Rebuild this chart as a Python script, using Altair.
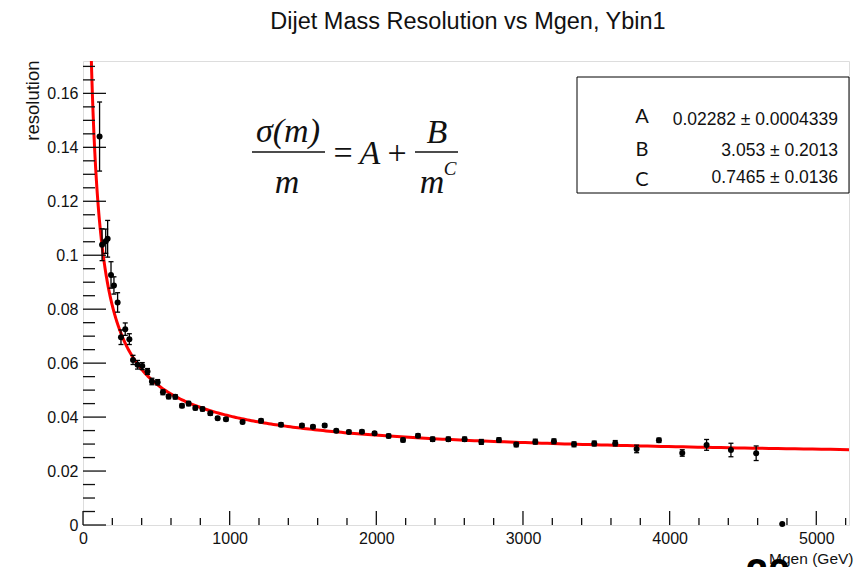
import altair as alt
import numpy as np
import pandas as pd

# Resolution per generated-mass bin (Mgen in GeV), with statistical errors
mgen = [113, 130, 155, 168, 191, 211, 236, 259, 288, 316,
        341, 372, 404, 440, 470, 509, 545, 584, 629, 675,
        720, 766, 815, 868, 918, 975, 1088, 1214, 1350, 1493,
        1568, 1648, 1727, 1813, 1902, 1988, 2084, 2182, 2284, 2384,
        2491, 2602, 2716, 2836, 2954, 3084, 3211, 3348, 3486, 3629,
        3775, 3927, 4086, 4252, 4418, 4590, 4768]
resolution = [0.1440, 0.1039, 0.1052, 0.1061, 0.0927, 0.0888, 0.0825, 0.0696, 0.0726, 0.0689,
              0.0612, 0.0594, 0.0589, 0.0569, 0.0532, 0.0529, 0.0492, 0.0476, 0.0475, 0.0442,
              0.0450, 0.0434, 0.0430, 0.0414, 0.0396, 0.0392, 0.0382, 0.0386, 0.0372, 0.0369,
              0.0364, 0.0369, 0.0349, 0.0345, 0.0346, 0.0340, 0.0330, 0.0315, 0.0331, 0.0318,
              0.0318, 0.0318, 0.0308, 0.0315, 0.0298, 0.0309, 0.0310, 0.0299, 0.0302, 0.0303,
              0.0282, 0.0314, 0.0267, 0.0297, 0.0278, 0.0266, 0.0004]
res_err = [0.0128, 0.0059, 0.0045, 0.0068, 0.0049, 0.0032, 0.0036, 0.0027, 0.0023, 0.0020,
           0.0017, 0.0016, 0.0013, 0.0011, 0.0012, 0.0010, 0.0009, 0.0008, 0.0008, 0.0007,
           0.0008, 0.0007, 0.0007, 0.0007, 0.0006, 0.0006, 0.0006, 0.0007, 0.0007, 0.0006,
           0.0006, 0.0006, 0.0006, 0.0006, 0.0006, 0.0006, 0.0007, 0.0007, 0.0007, 0.0008,
           0.0008, 0.0008, 0.0009, 0.0008, 0.0008, 0.0009, 0.0009, 0.0009, 0.0009, 0.0010,
           0.0014, 0.0008, 0.0012, 0.0020, 0.0025, 0.0027, 0.0]

# Fit of sigma(m)/m = A + B / m^C
fit_names = ["A", "B", "C"]
fit_values = [0.02282, 3.053, 0.7465]
fit_errors = [0.0004339, 0.2013, 0.0136]
fit_texts = ["0.02282 \u00b1 0.0004339", "3.053 \u00b1 0.2013", "0.7465 \u00b1 0.0136"]

# Axis ticks
x_major = [0, 1000, 2000, 3000, 4000, 5000]
x_minor = [i * 200 for i in range(27) if i % 5]
y_major = [0, 0.02, 0.04, 0.06, 0.08, 0.10, 0.12, 0.14, 0.16]
y_minor = [round(i * 0.005, 3) for i in range(35) if i % 4]

W, H = 766, 464
X_MAX, Y_MAX = 5223, 0.172
FONT = "Liberation Sans"
INK = "#111111"

pts = pd.DataFrame({"m": mgen, "res": resolution, "err": res_err})
pts["lo"] = pts["res"] - pts["err"]
pts["hi"] = pts["res"] + pts["err"]

A, B, C = fit_values
m_grid = np.geomspace(40, X_MAX, 400)
curve = pd.DataFrame({"m": m_grid, "res": A + B / m_grid ** C})

xs = alt.Scale(domain=[0, X_MAX], nice=False, zero=False)
ys = alt.Scale(domain=[0, Y_MAX], nice=False)

x_axis = alt.Axis(values=x_major, format="d", ticks=False, domain=False, grid=False,
                  labelFont=FONT, labelFontSize=16, labelColor=INK, labelPadding=5,
                  labelFlush=False, labelOverlap=False,
                  title="Mgen (GeV)", titleFont=FONT, titleFontSize=15.5, titleFontWeight="normal",
                  titleColor=INK, titleX=770, titleY=38, titleAlign="right",
                  titleBaseline="alphabetic")
y_axis = alt.Axis(values=y_major, format=".2~f", ticks=False, domain=False, grid=False,
                  labelFont=FONT, labelFontSize=16, labelColor=INK, labelPadding=5,
                  labelFlush=False, labelOverlap=False,
                  title="resolution", titleFont=FONT, titleFontSize=18.5, titleFontWeight="normal",
                  titleColor=INK, titleX=-51, titleY=-1, titleAngle=270, titleAlign="right",
                  titleBaseline="middle")


def X(field):
    return alt.X(field, type="quantitative", scale=xs, axis=x_axis)


def Y(field):
    return alt.Y(field, type="quantitative", scale=ys, axis=y_axis)


# Inward-pointing ticks, ROOT style
ytick_major = alt.Chart(pd.DataFrame({"res": y_major})).mark_rule(color=INK, strokeWidth=1.3).encode(
    y=Y("res"), x=alt.value(0), x2=alt.value(23))
ytick_minor = alt.Chart(pd.DataFrame({"res": y_minor})).mark_rule(color=INK, strokeWidth=1.3).encode(
    y=Y("res"), x=alt.value(0), x2=alt.value(12))
xtick_major = alt.Chart(pd.DataFrame({"m": x_major})).mark_rule(color=INK, strokeWidth=1.3).encode(
    x=X("m"), y=alt.value(H), y2=alt.value(H - 14))
xtick_minor = alt.Chart(pd.DataFrame({"m": x_minor})).mark_rule(color=INK, strokeWidth=1.3).encode(
    x=X("m"), y=alt.value(H), y2=alt.value(H - 7))

fit_line = alt.Chart(curve).mark_line(color="#ff0000", strokeWidth=3, clip=True).encode(
    x=X("m"), y=Y("res"))

err_bars = alt.Chart(pts).mark_rule(color="black", strokeWidth=1.3).encode(
    x=X("m"), y=Y("lo"), y2="hi:Q")
cap = dict(shape="M-1,0L1,0", filled=False, stroke="black", strokeWidth=1.3, size=25, opacity=1)
err_lo = alt.Chart(pts).mark_point(**cap).encode(x=X("m"), y=Y("lo"))
err_hi = alt.Chart(pts).mark_point(**cap).encode(x=X("m"), y=Y("hi"))
dots = alt.Chart(pts).mark_circle(color="black", size=36, opacity=1).encode(x=X("m"), y=Y("res"))


def label(text, x, y, size=33, font="Liberation Serif", style="italic", weight="normal",
          align="center", color=INK):
    return alt.Chart(pd.DataFrame({"t": [text]})).mark_text(
        font=font, fontSize=size, fontStyle=style, fontWeight=weight, color=color,
        align=align, baseline="alphabetic").encode(text="t:N", x=alt.value(x), y=alt.value(y))


def bar(x1, x2, y):
    return alt.Chart(pd.DataFrame({"k": [0]})).mark_rule(color=INK, strokeWidth=1.6).encode(
        x=alt.value(x1), x2=alt.value(x2), y=alt.value(y))


# Fit-parameter box
box = alt.Chart(pd.DataFrame({"k": [0]})).mark_rect(fill="white", stroke="black", strokeWidth=1).encode(
    x=alt.value(494), x2=alt.value(766), y=alt.value(16), y2=alt.value(132))
name_rows = [62, 95, 125]
value_rows = [64, 95, 122]
par_layers = []
for nm, txt, yn, yv in zip(fit_names, fit_texts, name_rows, value_rows):
    par_layers.append(label(nm, 559, yn, size=20, font="Lato", style="normal"))
    par_layers.append(label(txt, 755, yv, size=17.5, font=FONT, style="normal", align="right"))

# sigma(m)/m = A + B/m^C
formula = [
    label("\u03c3(m)", 205, 81, size=34),
    bar(169, 242, 91),
    label("m", 204, 132, size=34),
    label("=", 260, 103, style="normal", size=34),
    label("A", 287, 103, size=34),
    label("+", 314, 103, style="normal", size=34),
    label("B", 354, 82, size=34),
    bar(332, 375, 91),
    label("m", 349, 132, size=34),
    label("C", 367, 114, size=19),
]

title = label("Dijet Mass Resolution vs Mgen, Ybin1", 468 - 83, -32, size=23.5, font=FONT,
              style="normal")
page_no = label("20", 685, 526, size=40, font=FONT, style="normal", weight="bold", color="black")

chart = alt.layer(
    fit_line, ytick_minor, ytick_major, xtick_minor, xtick_major,
    err_bars, err_lo, err_hi, dots,
    box, *par_layers, *formula, title, page_no,
).properties(
    width=W, height=H, autosize="none",
    padding={"left": 83, "top": 61, "right": 9, "bottom": 42},
    background="white",
).configure_view(stroke="black", strokeWidth=1).configure(font=FONT)

chart.save("out.html", embed_options={"renderer": "svg", "actions": False})
